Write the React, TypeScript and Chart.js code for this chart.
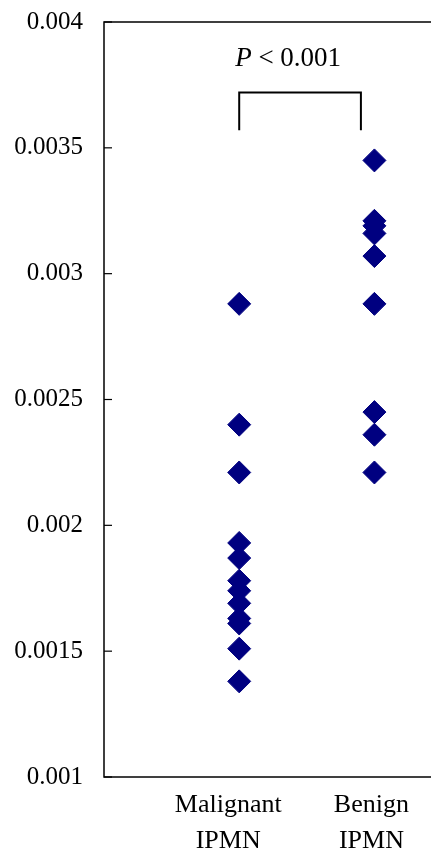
import React, { useEffect, useRef } from "react";
import { Chart, registerables } from "chart.js";

Chart.register(...registerables);

// ---- data ----
const categoryLabels: string[][] = [["Malignant", "IPMN"], ["Benign", "IPMN"]];
const categoryX: number[] = [1, 2];
const malignantValues: number[] = [
  0.00288, 0.0024, 0.00221, 0.00193, 0.00187, 0.00178, 0.00174, 0.00169, 0.00163, 0.00161, 0.00151, 0.00138,
];
const benignValues: number[] = [
  0.00345, 0.00321, 0.00319, 0.00316, 0.00307, 0.00288, 0.00245, 0.00236, 0.00221,
];
const yMin = 0.001;
const yMax = 0.004;
const yStep = 0.0005;
const xMin = 0;
const xMax = 2.326;

// significance bracket (data units)
const bracketX: number[] = [1, 1, 1.9, 1.9];
const bracketY: number[] = [0.00357, 0.00372, 0.00372, 0.00357];
const pLabelItalic = "P";
const pLabelRest = " < 0.001";
const pLabelX = 0.97;
const pLabelY = 0.003825;

const FONT = "'Liberation Serif', 'Times New Roman', serif";
const LABEL_SHIFT = [-11, -3];

const decorPlugin = {
  id: "decor",
  afterDraw(chart: any) {
    const { ctx, chartArea, scales } = chart;
    const ys = scales.y;
    const xs = scales.x;
    ctx.save();
    // frame (right side runs off the picture)
    ctx.strokeStyle = "#000";
    ctx.lineWidth = 1.5;
    ctx.strokeRect(chartArea.left, chartArea.top, chartArea.right - chartArea.left + 40, chartArea.bottom - chartArea.top);
    // inward y ticks
    ctx.lineWidth = 1.2;
    ys.ticks.forEach((t: any) => {
      const py = ys.getPixelForValue(t.value);
      ctx.beginPath();
      ctx.moveTo(chartArea.left, py);
      ctx.lineTo(chartArea.left + 8, py);
      ctx.stroke();
    });
    ctx.fillStyle = "#000";
    ctx.textBaseline = "alphabetic";
    // category labels
    ctx.textAlign = "center";
    ctx.font = `26px ${FONT}`;
    categoryX.forEach((cx, i) => {
      const px = xs.getPixelForValue(cx) + LABEL_SHIFT[i];
      categoryLabels[i].forEach((line, j) => {
        ctx.fillText(line, px, chartArea.bottom + 35 + j * 36);
      });
    });
    // P label
    const px = xs.getPixelForValue(pLabelX);
    const py = ys.getPixelForValue(pLabelY);
    ctx.textAlign = "left";
    ctx.font = `italic 27px ${FONT}`;
    ctx.fillText(pLabelItalic, px, py);
    const w = ctx.measureText(pLabelItalic).width;
    ctx.font = `27px ${FONT}`;
    ctx.fillText(pLabelRest, px + w, py);
    ctx.restore();
  },
};

export default function App() {
  const ref = useRef<HTMLCanvasElement | null>(null);
  useEffect(() => {
    if (!ref.current) return;
    const chart = new Chart(ref.current, {
      type: "scatter",
      data: {
        datasets: [
          {
            label: "Malignant IPMN",
            data: malignantValues.map((v) => ({ x: categoryX[0], y: v })),
            pointStyle: "rectRot",
            pointRadius: 11.5,
            pointBackgroundColor: "#000080",
            pointBorderColor: "#000080",
            pointBorderWidth: 1,
          },
          {
            label: "Benign IPMN",
            data: benignValues.map((v) => ({ x: categoryX[1], y: v })),
            pointStyle: "rectRot",
            pointRadius: 11.5,
            pointBackgroundColor: "#000080",
            pointBorderColor: "#000080",
            pointBorderWidth: 1,
          },
          {
            type: "line",
            label: "bracket",
            data: bracketX.map((x, i) => ({ x, y: bracketY[i] })),
            borderColor: "#000",
            borderWidth: 2,
            pointRadius: 0,
            showLine: true,
            fill: false,
            tension: 0,
          } as any,
        ],
      },
      options: {
        animation: false,
        responsive: false,
        maintainAspectRatio: false,
        layout: { padding: { top: 22, left: 0, right: 0, bottom: 0 } },
        plugins: { legend: { display: false }, tooltip: { enabled: false } },
        scales: {
          x: {
            type: "linear",
            min: xMin,
            max: xMax,
            grid: { display: false },
            border: { display: false },
            ticks: { display: false },
            afterFit: (scale: any) => {
              scale.height = 74;
              scale.paddingLeft = 0;
              scale.paddingRight = 0;
            },
          },
          y: {
            type: "linear",
            min: yMin,
            max: yMax,
            grid: { display: false },
            border: { display: false },
            afterFit: (scale: any) => {
              scale.width = 104;
              scale.paddingTop = 0;
              scale.paddingBottom = 0;
            },
            ticks: {
              stepSize: yStep,
              padding: 13,
              color: "#000",
              font: { family: FONT, size: 25 },
              callback: (v: any) => parseFloat(Number(v).toFixed(4)).toString(),
            },
          },
        },
      },
      plugins: [decorPlugin],
    });
    return () => chart.destroy();
  }, []);
  return (
    <div
      style={{
        position: "fixed",
        left: 0,
        top: 0,
        width: 431,
        height: 851,
        overflow: "hidden",
        background: "#fff",
      }}
    >
      <canvas ref={ref} width={431} height={851} style={{ display: "block", width: 431, height: 851 }} />
    </div>
  );
}
